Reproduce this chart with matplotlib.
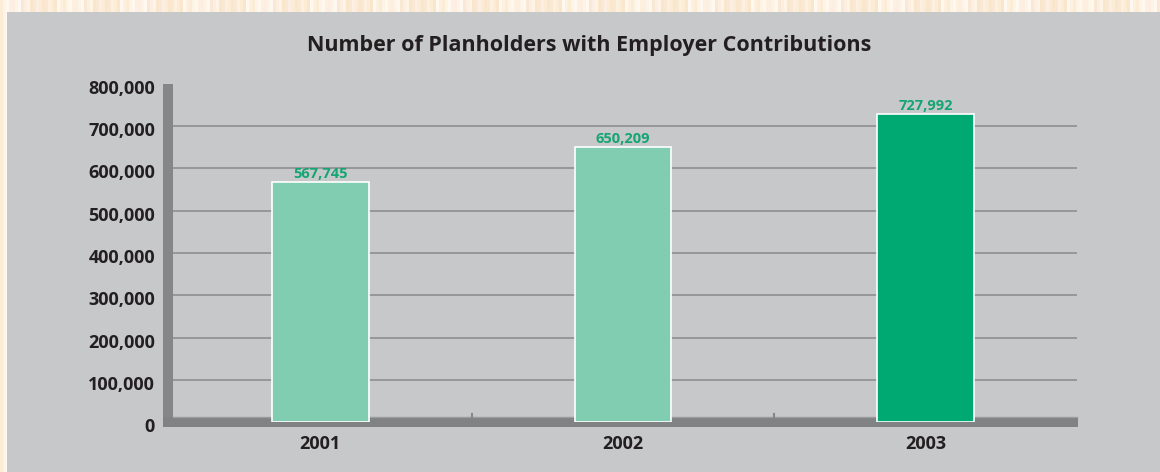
import matplotlib.pyplot as plt
from matplotlib.patches import Rectangle
import numpy as np

# data
years = ['2001', '2002', '2003']
planholders = [567745, 650209, 727992]
bar_colors = ['#80cdb2', '#80cdb2', '#00a872']
yticks = [0, 100000, 200000, 300000, 400000, 500000, 600000, 700000, 800000]

plt.rcParams['font.family'] = ['Open Sans', 'DejaVu Sans']

W, H = 1160, 472
fig = plt.figure(figsize=(W / 100, H / 100), dpi=100)
fig.patch.set_facecolor('#fbecd6')

# striped cream border
bg = fig.add_axes([0, 0, 1, 1], zorder=-10)
stripe_cols = np.array([[251, 236, 214], [254, 244, 230], [250, 230, 205],
                        [255, 248, 240], [248, 232, 212], [253, 240, 222],
                        [252, 238, 226]]) / 255
idx = (np.arange(W // 3) * 5 // 3) % len(stripe_cols)
bg.imshow(stripe_cols[idx][None, :, :], aspect='auto', extent=[0, 1, 0, 1])
bg.set_xlim(0, 1)
bg.set_ylim(0, 1)
bg.axis('off')
bg.add_patch(Rectangle((7 / W, 0), 1, (H - 12) / H, facecolor='#c7c8ca',
                       edgecolor='none', transform=bg.transAxes))

def fx(px):
    return px / W

def fy(py):
    return (H - py) / H

# plot area
ax = fig.add_axes([fx(169), fy(422), fx(1077) - fx(169), fy(84) - fy(422)])
ax.set_facecolor('none')
ax.set_xlim(-0.5, 2.5)
ax.set_ylim(0, 800000)
for s in ax.spines.values():
    s.set_visible(False)
ax.set_xticks([])
ax.set_yticks([])

px_y = 800000 / 338.0  # data units per pixel
px_x = 3.0 / 908.0

# gridlines
for v in yticks[1:-1]:
    ax.plot([-0.5 + 4 * px_x, 2.5], [v, v], color='#8e8f91', lw=1.2,
            zorder=1, clip_on=False, solid_capstyle='butt')

# left wall and floor
ax.add_patch(Rectangle((-0.5 - 6 * px_x, 0), 10 * px_x, 800000,
                       facecolor='#858687', edgecolor='none', clip_on=False, zorder=2))
ax.add_patch(Rectangle((-0.5 - 6 * px_x, -5 * px_y), 3 + 7 * px_x, 10 * px_y,
                       facecolor='#818283', edgecolor='none', clip_on=False, zorder=2))
ax.plot([-0.5 + 4 * px_x, 2.5], [5 * px_y, 5 * px_y], color='#9a9b9c', lw=1,
        clip_on=False, zorder=2.5)
for xb in [0.5, 1.5]:
    ax.plot([xb, xb], [5 * px_y, 8 * px_y], color='#858687', lw=1.5,
            clip_on=False, zorder=2.5)

# bars
bars = ax.bar(range(len(years)), planholders, width=0.32, color=bar_colors,
              edgecolor='white', linewidth=1.2, zorder=3)
for i, v in enumerate(planholders):
    ax.annotate(f'{v:,}', xy=(i, v), xytext=(0, 1), textcoords='offset pixels',
                ha='center', va='bottom', color='#13a572', fontsize=10.5,
                fontweight='bold', zorder=4)

# axis labels
for v in yticks:
    ax.annotate(f'{v:,}', xy=(0, v), xycoords=('axes fraction', 'data'),
                xytext=(-14, -5), textcoords='offset pixels', ha='right',
                va='center', fontsize=13, fontweight='bold', color='#231f20')
for i, y in enumerate(years):
    ax.annotate(y, xy=(i, 0), xytext=(0, -22), textcoords='offset pixels',
                ha='center', va='center', fontsize=13, fontweight='bold',
                color='#231f20')

fig.text(fx(589), fy(45), 'Number of Planholders with Employer Contributions',
         ha='center', va='center', fontsize=15.5, fontweight='bold', color='#231f20')

plt.savefig('out.png', dpi=100, facecolor=fig.get_facecolor())
